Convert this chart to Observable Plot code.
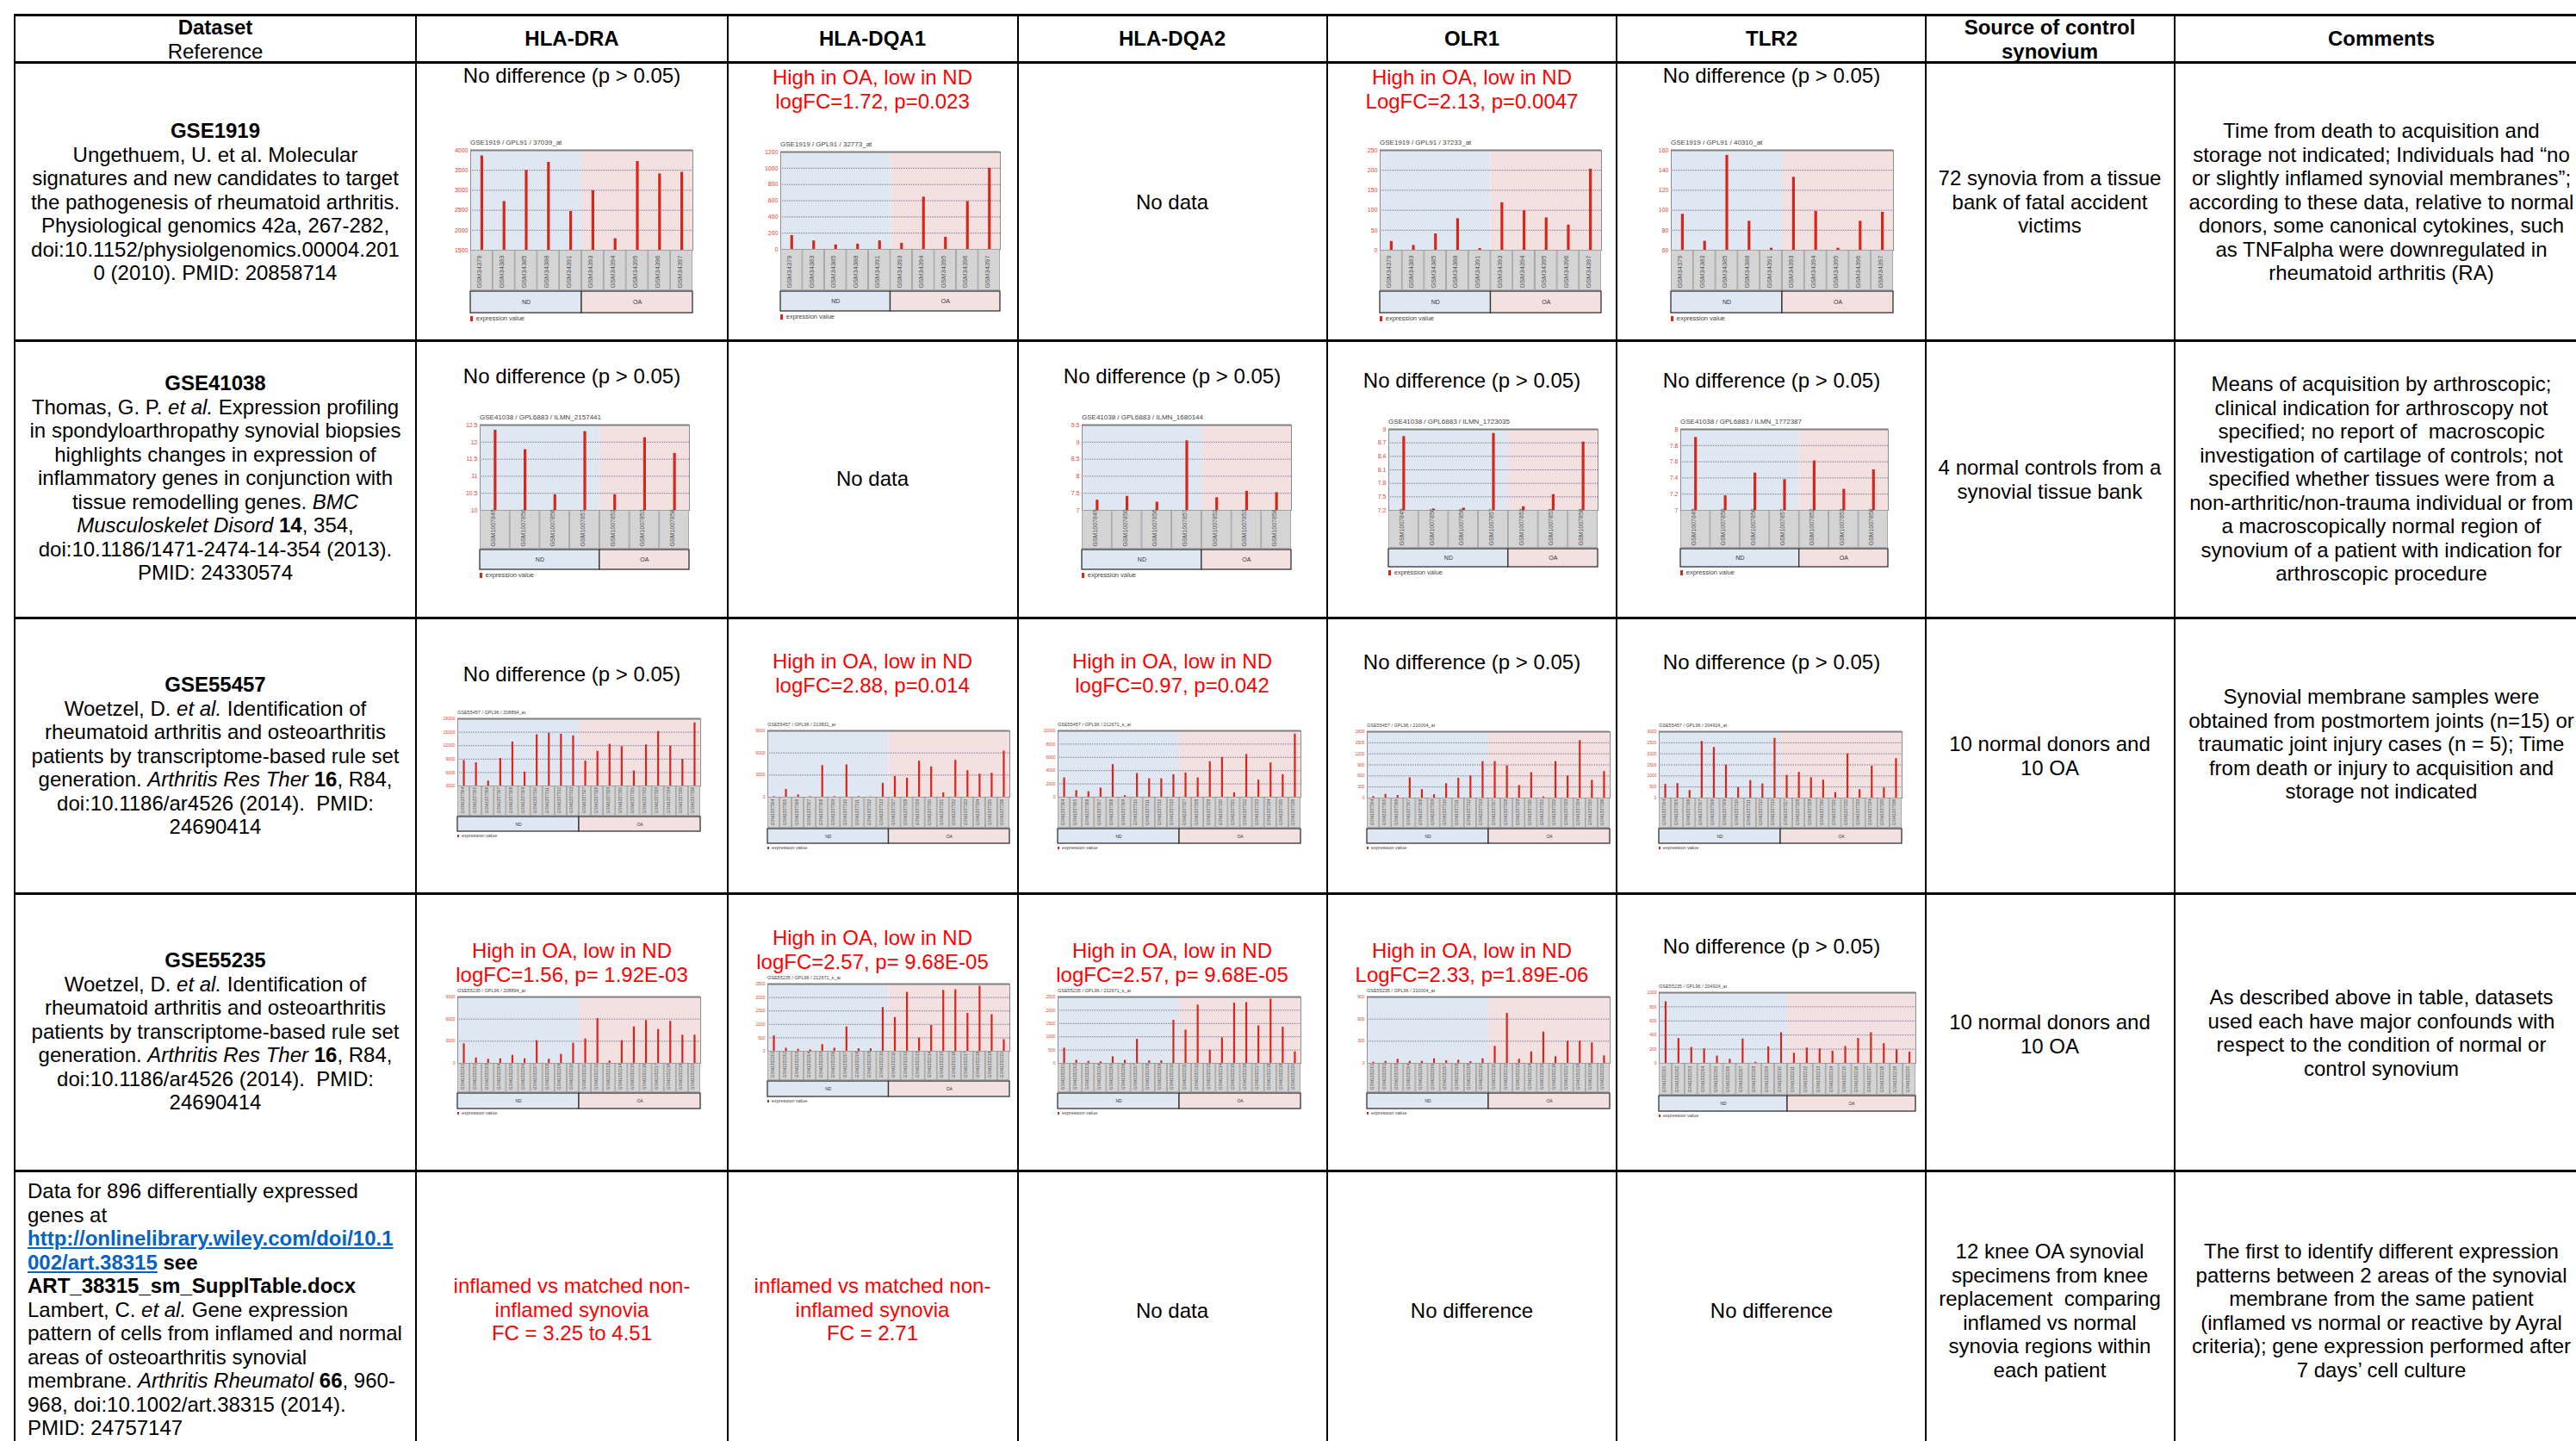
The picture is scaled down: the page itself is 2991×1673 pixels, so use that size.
<!DOCTYPE html>
<html><head><meta charset="utf-8">
<script src="https://cdn.jsdelivr.net/npm/d3@7"></script>
<script src="https://cdn.jsdelivr.net/npm/@observablehq/plot@0.6"></script>
<style>
html,body{margin:0;padding:0;background:#fff;}
#page{position:relative;width:2991px;height:1673px;overflow:hidden;font-family:"Liberation Sans",Arial,Helvetica,sans-serif;color:#000;background:#fff;}
.txt{position:absolute;font-size:24px;line-height:27.5px;white-space:nowrap;}
.red{color:#ff0000;}
.lnk{color:#0563c1;text-decoration:underline;font-weight:bold;}
.mt{position:absolute;white-space:nowrap;color:#444;font-family:"Liberation Sans",Arial,sans-serif;}
</style></head>
<body><div id="page"></div>
<script>
// ---------------- DATA ----------------
const genes = ["HLA-DRA", "HLA-DQA1", "HLA-DQA2", "OLR1", "TLR2"];

// GSE1919
const samples1919 = ["GSM34379","GSM34383","GSM34385","GSM34388","GSM34391","GSM34393","GSM34394","GSM34395","GSM34396","GSM34397"];
const groups1919  = ["ND","ND","ND","ND","ND","OA","OA","OA","OA","OA"];
const dra1919  = [3860, 2720, 3500, 3700, 2470, 2990, 1790, 3720, 3410, 3450];
const dqa1_1919 = [170, 105, 55, 65, 105, 75, 645, 150, 590, 1000];
const olr1_1919 = [22, 12, 41, 79, 4, 119, 99, 81, 63, 203];
const tlr2_1919 = [96, 69, 155, 89, 62, 133, 99, 62, 89, 98];

// GSE41038
const samples41038 = ["GSM1007849","GSM1007850","GSM1007856","GSM1007857","GSM1007852","GSM1007853","GSM1007858"];
const groups41038  = ["ND","ND","ND","ND","OA","OA","OA"];
const dra41038  = [12.35, 11.78, 10.46, 12.31, 10.46, 12.13, 11.67];
const dqa2_41038 = [7.30, 7.41, 7.24, 9.04, 7.37, 7.56, 7.52];
const olr1_41038 = [8.84, 7.23, 7.25, 8.91, 7.28, 7.55, 8.72];
const tlr2_41038 = [7.90, 7.18, 7.46, 7.38, 7.61, 7.26, 7.50];

// GSE55457
const samples55457 = ["GSM1337304","GSM1337305","GSM1337306","GSM1337307","GSM1337308","GSM1337309","GSM1337310","GSM1337311","GSM1337312","GSM1337313",
                      "GSM1337327","GSM1337328","GSM1337329","GSM1337330","GSM1337331","GSM1337332","GSM1337333","GSM1337334","GSM1337335","GSM1337336"];
const groups55457  = ["ND","ND","ND","ND","ND","ND","ND","ND","ND","ND","OA","OA","OA","OA","OA","OA","OA","OA","OA","OA"];
const dra55457  = [8690, 8170, 4100, 9140, 12830, 6100, 14440, 14770, 14570, 14190, 8560, 10760, 12310, 11790, 6360, 12180, 15160, 11920, 8950, 17100];
const dqa1_55457 = [80, 1060, 310, 80, 4300, 80, 4380, 80, 30, 1880, 2820, 2580, 4890, 4110, 590, 5010, 3600, 3130, 3250, 6260];
const dqa2_55457 = [2910, 1000, 830, 1390, 4910, 220, 3570, 2780, 2780, 3390, 3650, 2910, 5350, 6000, 650, 6440, 2570, 5170, 3390, 9520];
const olr1_55457 = [40, 100, 70, 550, 230, 90, 390, 540, 600, 990, 990, 870, 340, 690, 30, 990, 600, 1560, 480, 720];
const tlr2_55457 = [620, 660, 340, 2560, 2290, 1490, 470, 790, 640, 2700, 1030, 1160, 920, 810, 250, 2000, 380, 1440, 460, 1780];

// GSE55235
const samples55235 = ["GSM1332201","GSM1332202","GSM1332203","GSM1332204","GSM1332205","GSM1332206","GSM1332207","GSM1332208","GSM1332209","GSM1332210",
                      "GSM1332211","GSM1332212","GSM1332213","GSM1332214","GSM1332215","GSM1332216","GSM1332217","GSM1332218","GSM1332219","GSM1332220"];
const groups55235  = groups55457;
const dra55235  = [2650, 740, 550, 620, 1090, 620, 3080, 550, 1210, 2730, 3310, 6080, 310, 3080, 4950, 5810, 4600, 5690, 3820, 3820];
const dqa_212671_55235 = [572, 114, 76, 54, 249, 114, 907, 92, 92, 1625, 1252, 2192, 497, 961, 2268, 2289, 1410, 2419, 1361, 432];
const olr1_55235 = [16, 27, 55, 27, 27, 62, 35, 43, 23, 62, 230, 678, 55, 156, 425, 90, 300, 300, 277, 101];
const tlr2_55235 = [873, 352, 225, 205, 102, 57, 344, 16, 234, 434, 143, 217, 205, 172, 238, 352, 434, 279, 193, 160];

// y-axis tick labels of each mini chart
const ticksA = [1500, 2000, 2500, 3000, 3500, 4000];
const ticksB = [0, 200, 400, 600, 800, 1000, 1200];
const ticksC = [0, 50, 100, 150, 200, 250];
const ticksD = [60, 80, 100, 120, 140, 160];
const ticksE = [10, 10.5, 11, 11.5, 12, 12.5];
const ticksF = [7, 7.5, 8, 8.5, 9, 9.5];
const ticksG = [7.2, 7.5, 7.8, 8.1, 8.4, 8.7, 9];
const ticksH = [7, 7.2, 7.4, 7.6, 7.8, 8];
const ticksI = [3000, 6000, 9000, 12000, 15000, 18000];
const ticksJ = [0, 3000, 6000, 9000];
const ticksK = [0, 2000, 4000, 6000, 8000, 10000];
const ticksL = [0, 300, 600, 900, 1200, 1500, 1800];
const ticksM = [0, 500, 1000, 1500, 2000, 2500, 3000];
const ticksN = [0, 500, 1000, 1500, 2000, 2500];
const ticksO = [0, 300, 600, 900];
const ticksP = [0, 200, 400, 600, 800, 1000];

// ---------------- LAYOUT ----------------
const page = document.getElementById("page");
function el(css, html) { const d = document.createElement("div"); d.style.cssText = css; if (html != null) d.innerHTML = html; page.appendChild(d); return d; }

// table rules
const hLines = [17, 72, 395, 717, 1037, 1359];
const vLines = [17, 483, 845, 1182, 1541, 1877, 2236, 2525];
hLines.forEach(y => el(`position:absolute;left:16px;top:${y-1.5}px;width:2980px;height:3px;background:#000;`));
vLines.forEach(x => el(`position:absolute;left:${x-1}px;top:17px;width:2px;height:1660px;background:#000;`));

// text helpers
function ctext(cx, y0, lines, cls = "") {
  el(`left:${cx-330}px;width:660px;top:${y0-13.75}px;text-align:center;`, lines.join("<br>")).className = "txt " + cls;
}
function ltext(x, y0, lines) {
  el(`left:${x}px;top:${y0-13.75}px;text-align:left;`, lines.join("<br>")).className = "txt";
}
const cx = {ds: 250, dra: 664, dqa1: 1013, dqa2: 1361, olr1: 1709, tlr2: 2057, src: 2380, com: 2765};

// header
ctext(cx.ds, 32, ["<b>Dataset</b>", "Reference"]);
ctext(cx.dra, 45, ["<b>" + genes[0] + "</b>"]);
ctext(cx.dqa1, 45, ["<b>" + genes[1] + "</b>"]);
ctext(cx.dqa2, 45, ["<b>" + genes[2] + "</b>"]);
ctext(cx.olr1, 45, ["<b>" + genes[3] + "</b>"]);
ctext(cx.tlr2, 45, ["<b>" + genes[4] + "</b>"]);
ctext(cx.src, 32, ["<b>Source of control</b>", "<b>synovium</b>"]);
ctext(cx.com, 45, ["<b>Comments</b>"]);

const noDiff = "No difference (p > 0.05)";
// row 1
ctext(cx.ds, 152, ["<b>GSE1919</b>", "Ungethuem, U. et al. Molecular", "signatures and new candidates to target", "the pathogenesis of rheumatoid arthritis.", "Physiological genomics 42a, 267-282,", "doi:10.1152/physiolgenomics.00004.201", "0 (2010). PMID: 20858714"]);
ctext(cx.dra, 88, [noDiff]);
ctext(cx.dqa1, 90, ["High in OA, low in ND", "logFC=1.72, p=0.023"], "red");
ctext(cx.dqa2, 235, ["No data"]);
ctext(cx.olr1, 90, ["High in OA, low in ND", "LogFC=2.13, p=0.0047"], "red");
ctext(cx.tlr2, 88, [noDiff]);
ctext(cx.src, 207, ["72 synovia from a tissue", "bank of fatal accident", "victims"]);
ctext(cx.com, 152, ["Time from death to acquisition and", "storage not indicated; Individuals had \u201cno", "or slightly inflamed synovial membranes\u201d;", "according to these data, relative to normal", "donors, some canonical cytokines, such", "as TNFalpha were downregulated in", "rheumatoid arthritis (RA)"]);
// row 2
ctext(cx.ds, 445, ["<b>GSE41038</b>", "Thomas, G. P. <i>et al.</i> Expression profiling", "in spondyloarthropathy synovial biopsies", "highlights changes in expression of", "inflammatory genes in conjunction with", "tissue remodelling genes. <i>BMC</i>", "<i>Musculoskelet Disord</i> <b>14</b>, 354,", "doi:10.1186/1471-2474-14-354 (2013).", "PMID: 24330574"]);
ctext(cx.dra, 437, [noDiff]);
ctext(cx.dqa1, 556, ["No data"]);
ctext(cx.dqa2, 437, [noDiff]);
ctext(cx.olr1, 442, [noDiff]);
ctext(cx.tlr2, 442, [noDiff]);
ctext(cx.src, 543, ["4 normal controls from a", "synovial tissue bank"]);
ctext(cx.com, 446, ["Means of acquisition by arthroscopic;", "clinical indication for arthroscopy not", "specified; no report of&nbsp; macroscopic", "investigation of cartilage of controls; not", "specified whether tissues were from a", "non-arthritic/non-trauma individual or from", "a macroscopically normal region of", "synovium of a patient with indication for", "arthroscopic procedure"]);
// row 3
const woetzel = ["Woetzel, D. <i>et al.</i> Identification of", "rheumatoid arthritis and osteoarthritis", "patients by transcriptome-based rule set", "generation. <i>Arthritis Res Ther</i> <b>16</b>, R84,", "doi:10.1186/ar4526 (2014).&nbsp; PMID:", "24690414"];
ctext(cx.ds, 795, ["<b>GSE55457</b>", ...woetzel]);
ctext(cx.dra, 783, [noDiff]);
ctext(cx.dqa1, 768, ["High in OA, low in ND", "logFC=2.88, p=0.014"], "red");
ctext(cx.dqa2, 768, ["High in OA, low in ND", "logFC=0.97, p=0.042"], "red");
ctext(cx.olr1, 769, [noDiff]);
ctext(cx.tlr2, 769, [noDiff]);
ctext(cx.src, 864, ["10 normal donors and", "10 OA"]);
ctext(cx.com, 809, ["Synovial membrane samples were", "obtained from postmortem joints (n=15) or", "traumatic joint injury cases (n = 5); Time", "from death or injury to acquisition and", "storage not indicated"]);
// row 4
ctext(cx.ds, 1115, ["<b>GSE55235</b>", ...woetzel]);
ctext(cx.dra, 1104, ["High in OA, low in ND", "logFC=1.56, p= 1.92E-03"], "red");
ctext(cx.dqa1, 1089, ["High in OA, low in ND", "logFC=2.57, p= 9.68E-05"], "red");
ctext(cx.dqa2, 1104, ["High in OA, low in ND", "logFC=2.57, p= 9.68E-05"], "red");
ctext(cx.olr1, 1104, ["High in OA, low in ND", "LogFC=2.33, p=1.89E-06"], "red");
ctext(cx.tlr2, 1099, [noDiff]);
ctext(cx.src, 1187, ["10 normal donors and", "10 OA"]);
ctext(cx.com, 1158, ["As described above in table, datasets", "used each have major confounds with", "respect to the condition of normal or", "control synovium"]);
// row 5
ltext(32, 1383, ["Data for 896 differentially expressed", "genes at", "<span class='lnk'>http://onlinelibrary.wiley.com/doi/10.1</span>", "<span class='lnk'>002/art.38315</span> <b>see</b>", "<b>ART_38315_sm_SupplTable.docx</b>", "Lambert, C. <i>et al.</i> Gene expression", "pattern of cells from inflamed and normal", "areas of osteoarthritis synovial", "membrane. <i>Arthritis Rheumatol</i> <b>66</b>, 960-", "968, doi:10.1002/art.38315 (2014).", "PMID: 24757147"]);
ctext(cx.dra, 1493, ["inflamed vs matched non-", "inflamed synovia", "FC = 3.25 to 4.51"], "red");
ctext(cx.dqa1, 1493, ["inflamed vs matched non-", "inflamed synovia", "FC = 2.71"], "red");
ctext(cx.dqa2, 1522, ["No data"]);
ctext(cx.olr1, 1522, ["No difference"]);
ctext(cx.tlr2, 1522, ["No difference"]);
ctext(cx.src, 1453, ["12 knee OA synovial", "specimens from knee", "replacement&nbsp; comparing", "inflamed vs normal", "synovia regions within", "each patient"]);
ctext(cx.com, 1453, ["The first to identify different expression", "patterns between 2 areas of the synovial", "membrane from the same patient", "(inflamed vs normal or reactive by Ayral", "criteria); gene expression performed after", "7 days\u2019 cell culture"]);

// ---------------- MINI GEO CHARTS ----------------
const FB = {title: 8, tick: 7, lab: 7.5, grp: 7, leg: 7.5, bar: 3.2, mL: 30};
const FM = {title: 8, tick: 7, lab: 7, grp: 7, leg: 7.5, bar: 3.2, mL: 30};
const FS = {title: 5.5, tick: 5, lab: 5, grp: 5, leg: 5.5, bar: 2.2, mL: 24};
const FONT = "Liberation Sans, Arial, sans-serif";

function mini(c) {
  const [x, y, w, h, labB, grpT, grpB] = c.box;
  const f = c.f;
  const n = c.samples.length;
  const idx = d3.range(n);
  const nND = c.groups.filter(g => g === "ND").length;
  const nd = [{g: "ND", x1: 0, x2: nND}], oa = [{g: "OA", x1: nND, x2: n}];
  const base = {width: w + f.mL, marginLeft: f.mL, marginRight: 0, marginTop: 0, marginBottom: 0,
    x: {domain: [0, n], axis: null}, style: {overflow: "visible", background: "transparent", fontFamily: FONT}};
  const place = (svg, top) => { svg.style.position = "absolute"; svg.style.left = (x - f.mL) + "px"; svg.style.top = top + "px"; page.appendChild(svg); };

  // title
  el(`left:${x}px;top:${y - f.title - 5}px;font-size:${f.title}px;line-height:${f.title + 1}px;`, c.title).className = "mt";

  const main = Plot.plot({...base, height: h,
    y: {domain: [c.ticks[0], c.ticks[c.ticks.length - 1]]},
    marks: [
      Plot.rect(nd, {x1: "x1", x2: "x2", fill: "#dfe8f2"}),
      Plot.rect(oa, {x1: "x1", x2: "x2", fill: "#f3e0e0"}),
      Plot.gridY(c.ticks, {stroke: "#3c3c66", strokeOpacity: 0.85, strokeDasharray: "1,1", strokeWidth: 0.8}),
      Plot.axisY(c.ticks, {tickSize: 0, tickPadding: 3, fontSize: f.tick, fill: "#e2452f", tickFormat: d => String(d)}),
      Plot.ruleX(idx, {x: i => i + 0.5, y1: c.ticks[0], y2: i => c.values[i], stroke: "#d8261a", strokeWidth: f.bar}),
      Plot.frame({stroke: "#8c8c8c", strokeWidth: 1}),
      Plot.ruleY([c.ticks[c.ticks.length - 1]], {stroke: "#808080", strokeWidth: 2})
    ]});
  place(main, y);

  const lab = Plot.plot({...base, height: labB - (y + h),
    marks: [
      Plot.rect(idx, {x1: i => i, x2: i => i + 1, fill: "#d4d4d4", stroke: "#9a9a9a", strokeWidth: 0.8, inset: 0.4}),
      Plot.text(idx, {x: i => i + 0.5, text: i => c.samples[i], rotate: -90, frameAnchor: "bottom", textAnchor: "start", dy: -3, fontSize: f.lab, fill: "#555", fontFamily: FONT})
    ]});
  place(lab, y + h);

  const grp = Plot.plot({...base, height: grpB - grpT,
    marks: [
      Plot.rect(nd, {x1: "x1", x2: "x2", fill: "#dfe8f2", stroke: "#333", strokeWidth: 1.3}),
      Plot.rect(oa, {x1: "x1", x2: "x2", fill: "#f3e0e0", stroke: "#333", strokeWidth: 1.3}),
      Plot.text([...nd, ...oa], {x: d => (d.x1 + d.x2) / 2, text: "g", frameAnchor: "middle", fontSize: f.grp, fill: "#333", fontFamily: FONT})
    ]});
  place(grp, grpT);

  // legend
  el(`left:${x}px;top:${grpB + 2}px;font-size:${f.leg}px;line-height:${f.leg + 2}px;`,
     `<span style="display:inline-block;width:${f.leg*0.4}px;height:${f.leg*0.7}px;background:#d8261a;margin-right:${f.leg*0.5}px;vertical-align:middle"></span>expression value`).className = "mt";
}

const charts = [
  // GSE1919
  {title: "GSE1919 / GPL91 / 37039_at", samples: samples1919, groups: groups1919, values: dra1919, ticks: ticksA, box: [546, 174, 258, 116, 337, 338, 363], f: FB},
  {title: "GSE1919 / GPL91 / 32773_at", samples: samples1919, groups: groups1919, values: dqa1_1919, ticks: ticksB, box: [906, 176, 255, 113, 337, 338, 361], f: FB},
  {title: "GSE1919 / GPL91 / 37233_at", samples: samples1919, groups: groups1919, values: olr1_1919, ticks: ticksC, box: [1602, 174, 257, 116, 337, 338, 363], f: FB},
  {title: "GSE1919 / GPL91 / 40310_at", samples: samples1919, groups: groups1919, values: tlr2_1919, ticks: ticksD, box: [1940, 174, 258, 116, 337, 338, 363], f: FB},
  // GSE41038
  {title: "GSE41038 / GPL6883 / ILMN_2157441", samples: samples41038, groups: groups41038, values: dra41038, ticks: ticksE, box: [557, 493, 243, 99, 637, 638, 661], f: FM},
  {title: "GSE41038 / GPL6883 / ILMN_1680144", samples: samples41038, groups: groups41038, values: dqa2_41038, ticks: ticksF, box: [1256, 493, 243, 99, 637, 638, 661], f: FM},
  {title: "GSE41038 / GPL6883 / ILMN_1723035", samples: samples41038, groups: groups41038, values: olr1_41038, ticks: ticksG, box: [1612, 498, 243, 94, 636, 637, 658], f: FM},
  {title: "GSE41038 / GPL6883 / ILMN_1772387", samples: samples41038, groups: groups41038, values: tlr2_41038, ticks: ticksH, box: [1951, 498, 241, 94, 636, 637, 658], f: FM},
  // GSE55457
  {title: "GSE55457 / GPL96 / 208894_at", samples: samples55457, groups: groups55457, values: dra55457, ticks: ticksI, box: [531, 834, 282, 78, 947, 948, 965], f: FS},
  {title: "GSE55457 / GPL96 / 213831_at", samples: samples55457, groups: groups55457, values: dqa1_55457, ticks: ticksJ, box: [891, 848, 281, 77, 961, 962, 979], f: FS},
  {title: "GSE55457 / GPL96 / 212671_s_at", samples: samples55457, groups: groups55457, values: dqa2_55457, ticks: ticksK, box: [1228, 848, 282, 77, 961, 962, 979], f: FS},
  {title: "GSE55457 / GPL96 / 210004_at", samples: samples55457, groups: groups55457, values: olr1_55457, ticks: ticksL, box: [1587, 849, 282, 77, 961, 962, 979], f: FS},
  {title: "GSE55457 / GPL96 / 204924_at", samples: samples55457, groups: groups55457, values: tlr2_55457, ticks: ticksM, box: [1926, 849, 282, 77, 961, 962, 979], f: FS},
  // GSE55235
  {title: "GSE55235 / GPL96 / 208894_at", samples: samples55235, groups: groups55235, values: dra55235, ticks: ticksJ, box: [531, 1157, 282, 77, 1268, 1269, 1287], f: FS},
  {title: "GSE55235 / GPL96 / 212671_s_at", samples: samples55235, groups: groups55235, values: dqa_212671_55235, ticks: ticksN, box: [891, 1142, 281, 78, 1254, 1255, 1273], f: FS},
  {title: "GSE55235 / GPL96 / 212671_s_at", samples: samples55235, groups: groups55235, values: dqa_212671_55235, ticks: ticksN, box: [1228, 1157, 282, 77, 1268, 1269, 1287], f: FS},
  {title: "GSE55235 / GPL96 / 210004_at", samples: samples55235, groups: groups55235, values: olr1_55235, ticks: ticksO, box: [1587, 1157, 282, 77, 1268, 1269, 1287], f: FS},
  {title: "GSE55235 / GPL96 / 204924_at", samples: samples55235, groups: groups55235, values: tlr2_55235, ticks: ticksP, box: [1926, 1152, 298, 82, 1271, 1272, 1290], f: FS}
];
charts.forEach(mini);
</script>
</body></html>
